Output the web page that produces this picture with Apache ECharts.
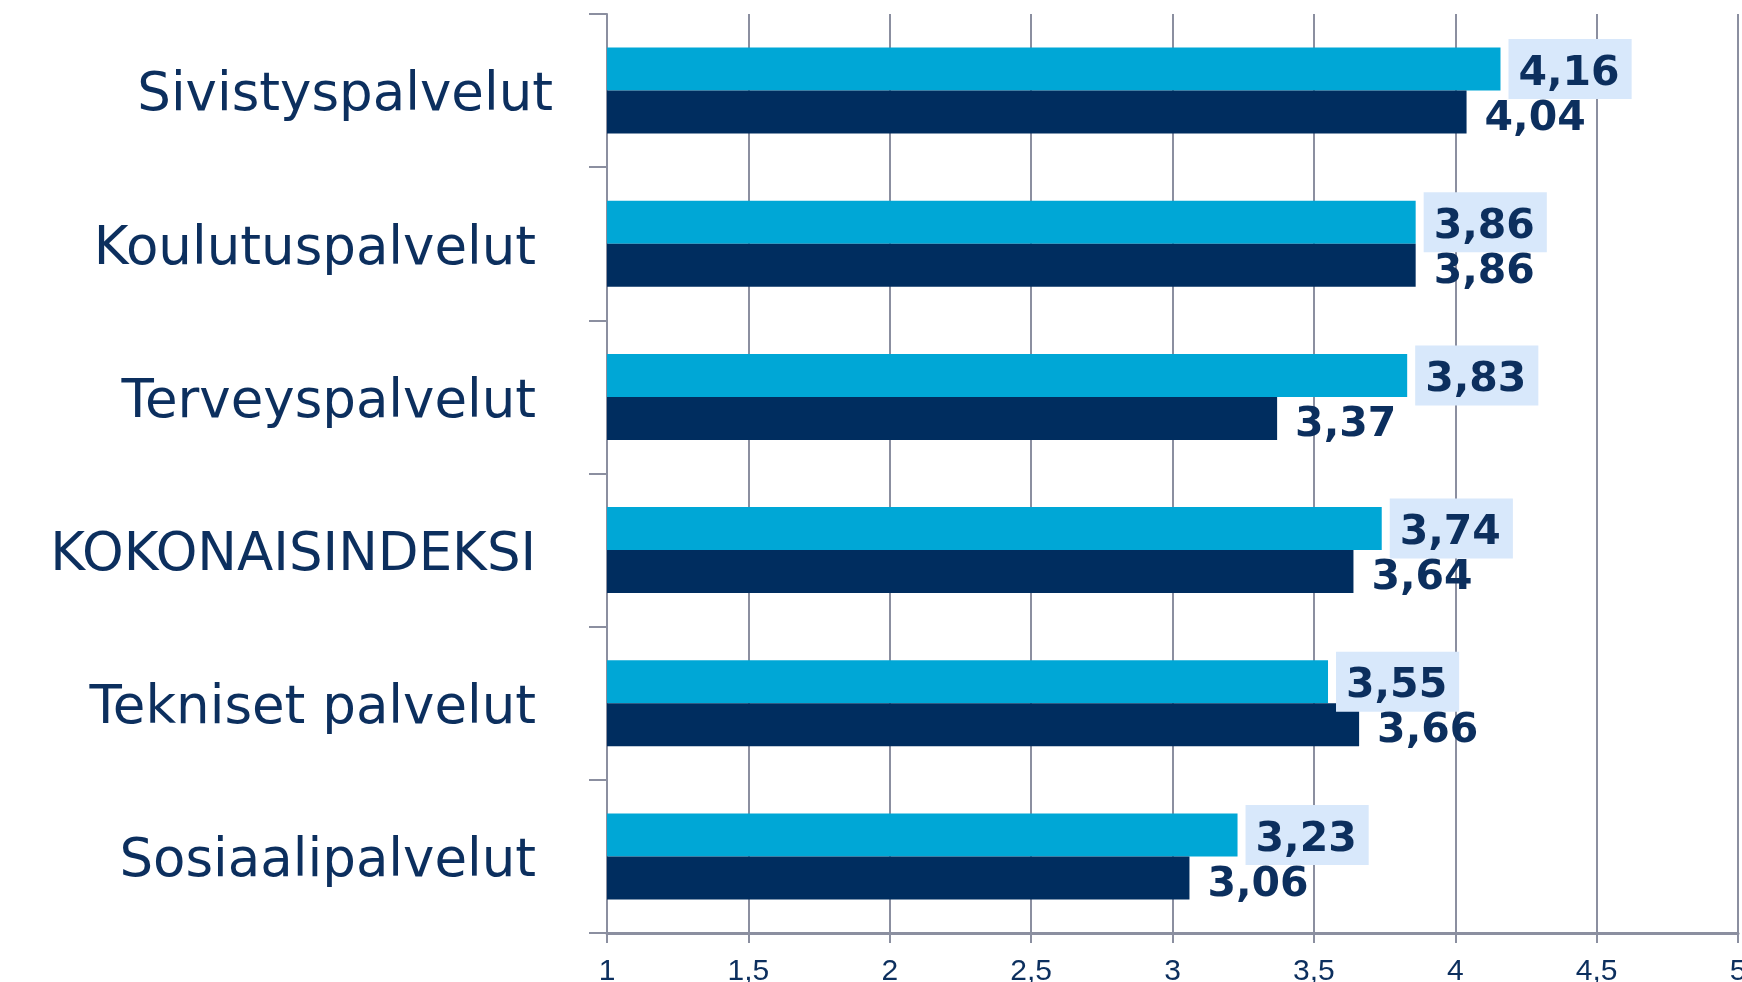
<!DOCTYPE html>
<html>
<head>
<meta charset="utf-8">
<script src="https://cdn.jsdelivr.net/npm/echarts@6/dist/echarts.min.js"></script>
<style>
html,body{margin:0;padding:0;background:#fff;}
#chart{width:1742px;height:982px;}
</style>
</head>
<body>
<div id="chart"></div>
<script>
// Categories, top to bottom (trailing spaces as in the original labels)
const categories = ["Sivistyspalvelut", "Koulutuspalvelut ", "Terveyspalvelut ", "KOKONAISINDEKSI ", "Tekniset palvelut ", "Sosiaalipalvelut "];
const seriesLight = [4.16, 3.86, 3.83, 3.74, 3.55, 3.23];
const seriesDark = [4.04, 3.86, 3.37, 3.64, 3.66, 3.06];
const xTicks = [1, 1.5, 2, 2.5, 3, 3.5, 4, 4.5, 5];

const navy = '#0c2f5e';
const gridGrey = '#8b8fa0';
const fmt = v => v.toFixed(2).replace('.', ',');
const valueText = { color: navy, fontFamily: 'DejaVu Sans', fontWeight: 'bold', fontSize: 41, lineHeight: 42 };

const chart = echarts.init(document.getElementById('chart'));
chart.setOption({
  animation: false,
  backgroundColor: '#ffffff',
  grid: { left: 607, right: 4, top: 14, bottom: 49, containLabel: false, outerBoundsMode: 'none' },
  xAxis: {
    type: 'value',
    min: xTicks[0],
    max: xTicks[xTicks.length - 1],
    interval: 0.5,
    axisLine: { show: true, lineStyle: { color: gridGrey, width: 3 } },
    axisTick: { show: true, length: 10, lineStyle: { color: gridGrey, width: 2 } },
    splitLine: { show: true, lineStyle: { color: gridGrey, width: 2 } },
    axisLabel: {
      margin: 24,
      color: navy,
      fontFamily: 'Liberation Sans',
      fontSize: 30,
      hideOverlap: false,
      formatter: v => String(v).replace('.', ',')
    }
  },
  yAxis: {
    type: 'category',
    inverse: true,
    data: categories,
    axisLine: { show: true, lineStyle: { color: gridGrey, width: 2 } },
    axisTick: { show: true, length: 18, lineStyle: { color: gridGrey, width: 2 } },
    axisLabel: {
      margin: 54,
      color: navy,
      fontFamily: 'DejaVu Sans',
      fontSize: 53,
      lineHeight: 12,
      verticalAlign: 'top'
    }
  },
  series: [
    {
      type: 'bar',
      data: seriesLight,
      barWidth: 43,
      barGap: '0%',
      itemStyle: { color: '#00a7d6' },
      z: 2,
      label: {
        show: true,
        position: 'right',
        distance: 8,
        backgroundColor: '#d8e8fb',
        padding: [9, 12, 9, 10],
        formatter: p => '{v|' + fmt(p.value) + '}',
        rich: { v: Object.assign({ padding: [10, 0, 0, 0] }, valueText) }
      }
    },
    {
      type: 'bar',
      data: seriesDark,
      barWidth: 43,
      barGap: '0%',
      itemStyle: { color: '#002d5f' },
      z: 2,
      label: Object.assign({
        show: true,
        position: 'right',
        distance: 8,
        offset: [0, 7],
        padding: [9, 12, 9, 10],
        formatter: p => fmt(p.value)
      }, valueText)
    }
  ]
});
</script>
</body>
</html>
